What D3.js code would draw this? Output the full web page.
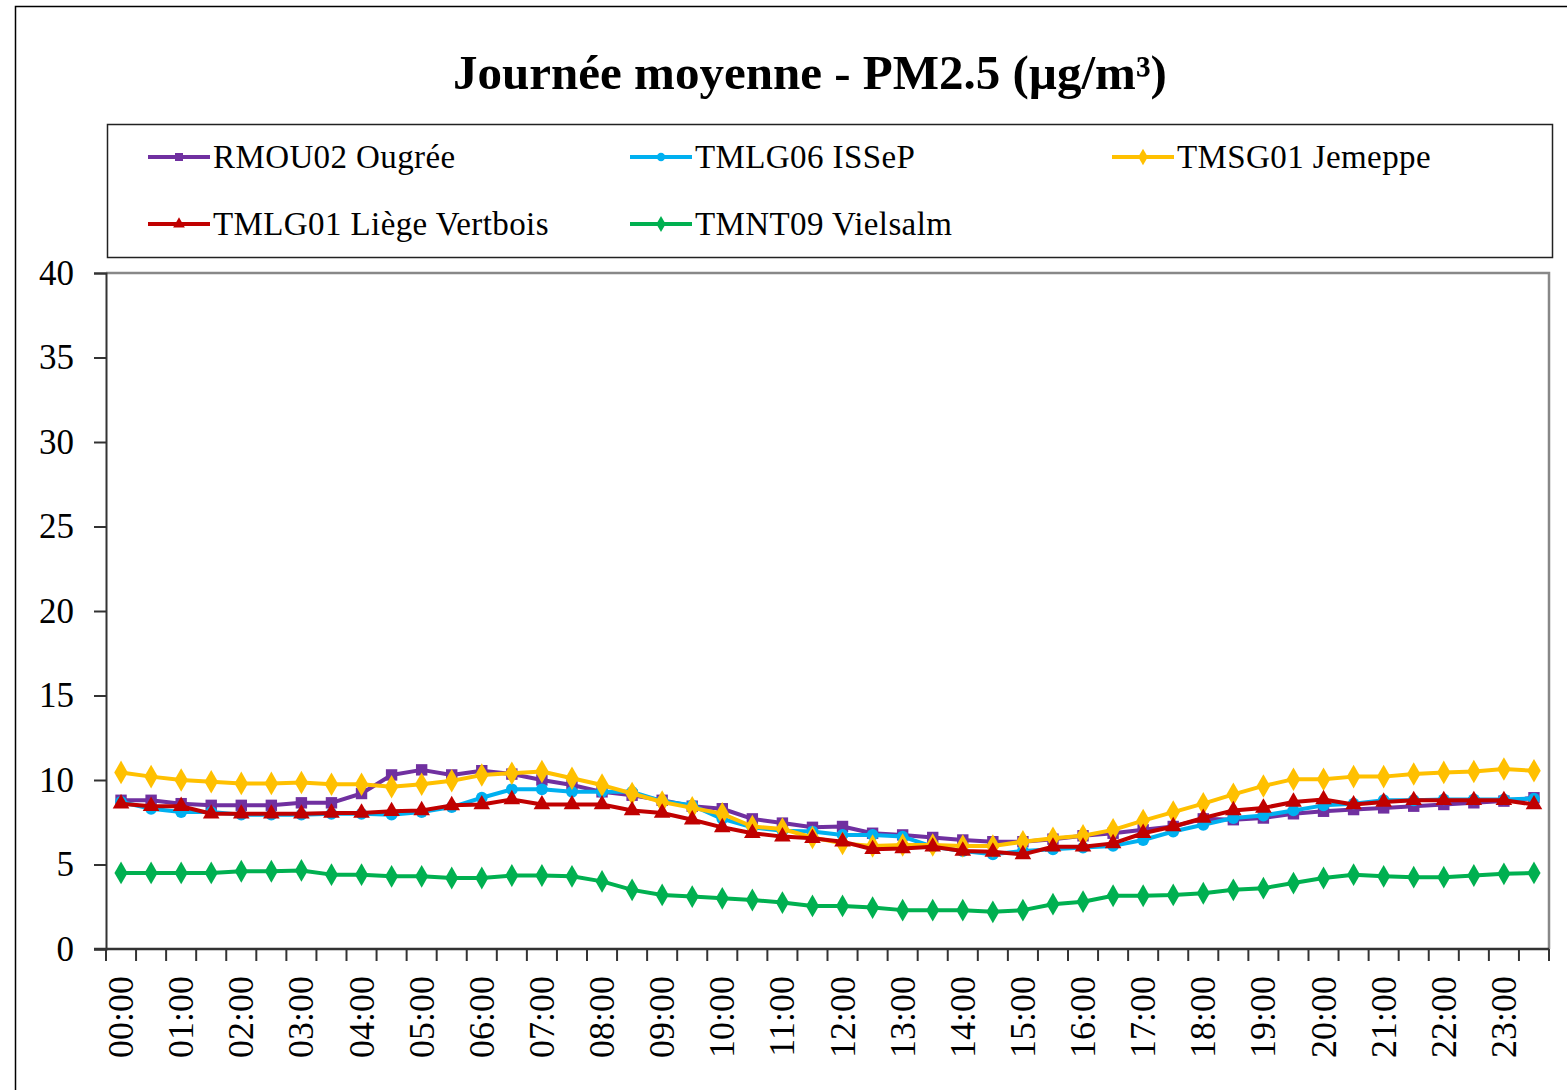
<!DOCTYPE html>
<html>
<head>
<meta charset="utf-8">
<script src="https://cdn.jsdelivr.net/npm/d3@7"></script>
<style>
	body { margin: 0; background: #fff; }
	text { font-family: "Liberation Serif", "Times New Roman", serif; fill: #000; }
</style>
</head>
<body>
<svg id="chart"></svg>
<script>

var hours = ["00:00","00:30","01:00","01:30","02:00","02:30","03:00","03:30",
	"04:00","04:30","05:00","05:30","06:00","06:30","07:00","07:30",
	"08:00","08:30","09:00","09:30","10:00","10:30","11:00","11:30",
	"12:00","12:30","13:00","13:30","14:00","14:30","15:00","15:30",
	"16:00","16:30","17:00","17:30","18:00","18:30","19:00","19:30",
	"20:00","20:30","21:00","21:30","22:00","22:30","23:00","23:30"];

var yTicks = [0, 5, 10, 15, 20, 25, 30, 35, 40];

var rmou02 = [8.8, 8.8, 8.6, 8.5, 8.5, 8.5, 8.65, 8.65, 9.2, 10.3, 10.6, 10.3,
	10.55, 10.35, 10.0, 9.7, 9.3, 9.1, 8.8, 8.45, 8.3, 7.7, 7.45, 7.2,
	7.25, 6.85, 6.75, 6.6, 6.45, 6.35, 6.35, 6.5, 6.7, 6.85, 7.05, 7.25,
	7.7, 7.65, 7.75, 8.0, 8.15, 8.25, 8.35, 8.45, 8.55, 8.65, 8.75, 8.95];

var tmlg06 = [8.7, 8.3, 8.1, 8.1, 7.95, 7.95, 7.95, 8.0, 8.0, 7.95, 8.1, 8.4,
	8.95, 9.45, 9.45, 9.3, 9.3, 9.3, 8.75, 8.5, 7.7, 7.2, 7.0, 6.95,
	6.75, 6.75, 6.65, 6.05, 5.8, 5.6, 5.8, 5.9, 6.0, 6.1, 6.45, 6.95,
	7.35, 7.75, 7.9, 8.2, 8.5, 8.6, 8.8, 8.8, 8.85, 8.85, 8.85, 8.9];

var tmsg01 = [10.45, 10.2, 10.0, 9.9, 9.8, 9.8, 9.85, 9.75, 9.75, 9.6, 9.75, 9.95,
	10.3, 10.4, 10.5, 10.1, 9.7, 9.2, 8.7, 8.35, 8.0, 7.25, 7.1, 6.6,
	6.25, 6.1, 6.15, 6.15, 6.1, 6.1, 6.35, 6.55, 6.7, 7.05, 7.6, 8.1,
	8.6, 9.15, 9.65, 10.05, 10.05, 10.2, 10.2, 10.35, 10.45, 10.5, 10.65, 10.55];

var tmlg01 = [8.6, 8.45, 8.45, 8.0, 8.0, 8.0, 8.0, 8.05, 8.05, 8.15, 8.2, 8.5,
	8.55, 8.85, 8.55, 8.55, 8.55, 8.2, 8.05, 7.65, 7.2, 6.85, 6.65, 6.55,
	6.35, 5.9, 5.95, 6.05, 5.8, 5.75, 5.6, 6.05, 6.05, 6.25, 6.85, 7.25,
	7.75, 8.2, 8.35, 8.7, 8.85, 8.55, 8.7, 8.8, 8.8, 8.8, 8.8, 8.55];

var tmnt09 = [4.5, 4.5, 4.5, 4.5, 4.6, 4.6, 4.65, 4.4, 4.4, 4.3, 4.3, 4.2,
	4.2, 4.35, 4.35, 4.3, 4.0, 3.5, 3.2, 3.1, 3.0, 2.9, 2.75, 2.55,
	2.55, 2.45, 2.3, 2.3, 2.3, 2.2, 2.3, 2.65, 2.8, 3.15, 3.15, 3.2,
	3.3, 3.5, 3.6, 3.9, 4.2, 4.4, 4.3, 4.25, 4.25, 4.35, 4.45, 4.5];

var series = [
	{ name: "RMOU02 Ougrée", values: rmou02, color: "#7030A0", symbol: d3.symbolSquare, size: 130 },
	{ name: "TMLG06 ISSeP", values: tmlg06, color: "#00B0F0", symbol: d3.symbolCircle, size: 110 },
	{ name: "TMSG01 Jemeppe", values: tmsg01, color: "#FFC000", symbol: d3.symbolDiamond, size: 160 },
	{ name: "TMLG01 Liège Vertbois", values: tmlg01, color: "#C00000", symbol: d3.symbolTriangle, size: 120 },
	{ name: "TMNT09 Vielsalm", values: tmnt09, color: "#00B050", symbol: d3.symbolDiamond, size: 150 }
];

var width = 1567, height = 1090;
var plot = { left: 106, right: 1549, top: 273, bottom: 949 };

var svg = d3.select("#chart")
	.attr("width", width)
	.attr("height", height);

// outer frame
svg.append("rect")
	.attr("x", 15.5).attr("y", 6.5)
	.attr("width", 1600).attr("height", 1200)
	.attr("fill", "#fff")
	.attr("stroke", "#000")
	.attr("stroke-width", 1.5);

svg.append("text")
	.attr("x", 810)
	.attr("y", 89)
	.attr("text-anchor", "middle")
	.style("font-size", "49px")
	.style("font-weight", "bold")
	.text("Journée moyenne - PM2.5 (µg/m³)");

// legend
var legend = svg.append("g");
legend.append("rect")
	.attr("x", 107.5).attr("y", 124.5)
	.attr("width", 1445).attr("height", 133)
	.attr("fill", "none")
	.attr("stroke", "#222")
	.attr("stroke-width", 1.5);

var legendPos = [[148, 157], [630, 157], [1112, 157], [148, 224], [630, 224]];

series.forEach(function(s, i) {
	var g = legend.append("g")
		.attr("transform", "translate(" + legendPos[i][0] + "," + legendPos[i][1] + ")");
	g.append("line")
		.attr("x1", 0).attr("x2", 62)
		.attr("stroke", s.color)
		.attr("stroke-width", 4);
	g.append("path")
		.attr("transform", "translate(31,0)")
		.attr("d", d3.symbol().type(s.symbol).size(s.size * 0.5)())
		.attr("fill", s.color);
	g.append("text")
		.attr("x", 65)
		.attr("y", 11)
		.style("font-size", "33px")
		.style("letter-spacing", "0.4px")
		.text(s.name);
});

var x = d3.scaleBand()
	.domain(hours)
	.range([plot.left, plot.right])
	.padding(0);

var y = d3.scaleLinear()
	.domain([0, 40])
	.range([plot.bottom, plot.top]);

// plot frame (top and right)
svg.append("path")
	.attr("d", "M" + plot.left + "," + plot.top + "H" + plot.right + "V" + plot.bottom)
	.attr("fill", "none")
	.attr("stroke", "#888")
	.attr("stroke-width", 2.5);

// y axis
var yAxis = svg.append("g")
	.attr("transform", "translate(" + plot.left + ",0)")
	.call(d3.axisLeft(y).tickValues(yTicks).tickSize(12).tickPadding(20));
yAxis.select(".domain").attr("stroke", "#333").attr("stroke-width", 2);
yAxis.selectAll(".tick line").attr("stroke", "#333").attr("stroke-width", 2);
yAxis.selectAll(".tick text")
	.style("font-size", "35px")
	.style("font-family", "Liberation Serif, Times New Roman, serif")
	.attr("fill", "#000");

// x axis: ticks at band edges, labels every hour
var xAxis = svg.append("g");
xAxis.append("line")
	.attr("x1", plot.left - 12).attr("x2", plot.right)
	.attr("y1", plot.bottom).attr("y2", plot.bottom)
	.attr("stroke", "#333")
	.attr("stroke-width", 2.5);

xAxis.selectAll(".xtick")
	.data(hours.concat(["end"]))
	.join("line")
	.attr("class", "xtick")
	.attr("x1", (d, i) => i < hours.length ? x(d) : plot.right)
	.attr("x2", (d, i) => i < hours.length ? x(d) : plot.right)
	.attr("y1", plot.bottom)
	.attr("y2", plot.bottom + 12)
	.attr("stroke", "#333")
	.attr("stroke-width", 2);

xAxis.selectAll(".xlabel")
	.data(hours.filter((d, i) => i % 2 === 0))
	.join("text")
	.attr("class", "xlabel")
	.attr("transform", d => "translate(" + (x(d) + x.bandwidth() / 2 + 12) + "," + (plot.bottom + 27) + ") rotate(-90)")
	.attr("text-anchor", "end")
	.style("font-size", "36px")
	.text(d => d);

// series
var line = d3.line()
	.x((d, i) => x(hours[i]) + x.bandwidth() / 2)
	.y(d => y(d));

series.forEach(function(s) {
	var g = svg.append("g");
	g.append("path")
		.datum(s.values)
		.attr("d", line)
		.attr("fill", "none")
		.attr("stroke", s.color)
		.attr("stroke-width", 4)
		.attr("stroke-linejoin", "round");
	g.selectAll("path.mark")
		.data(s.values)
		.join("path")
		.attr("class", "mark")
		.attr("transform", (d, i) => "translate(" + (x(hours[i]) + x.bandwidth() / 2) + "," + y(d) + ")")
		.attr("d", d3.symbol().type(s.symbol).size(s.size)())
		.attr("fill", s.color);
});

</script>
</body>
</html>
